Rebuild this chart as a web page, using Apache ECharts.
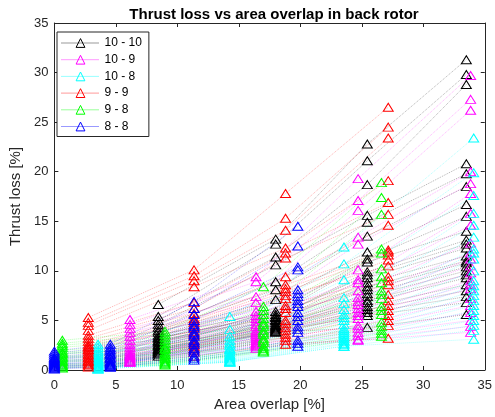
<!DOCTYPE html>
<html>
<head>
<meta charset="utf-8">
<script src="https://cdn.jsdelivr.net/npm/echarts@6/dist/echarts.min.js"></script>
<style>
  html, body { margin: 0; padding: 0; background: #fff; }
  #main { width: 495px; height: 417px; }
</style>
</head>
<body>
<div id="main"></div>
<script>
// area overlap [%] for each rotor pair (4 spacings)
var x_10_10 = [8.45, 18.0, 25.45, 33.5];
var x_10_9 = [6.15, 16.4, 24.7, 33.85];
var x_10_8 = [3.55, 14.27, 23.55, 34.1];
var x_9_9 = [2.76, 11.36, 18.8, 27.15];
var x_9_8 = [0.65, 9.0, 17.0, 26.6];
var x_8_8 = [0.0, 4.55, 11.36, 19.8];

// thrust loss [%], one row per test case
var y_10_10 = [
  [6.6, 13.2, 22.8, 31.3], [5.4, 12.7, 21.1, 29.8], [5.0, 11.4, 18.7, 28.8],
  [4.6, 10.6, 15.6, 20.8], [4.3, 8.9, 14.9, 19.8], [4.0, 8.1, 13.5, 18.5],
  [3.8, 7.1, 11.9, 16.7], [3.5, 5.9, 11.2, 15.5], [3.2, 5.6, 10.9, 14.0],
  [3.0, 5.3, 9.9, 13.1], [2.8, 5.0, 9.3, 12.3], [2.6, 4.8, 8.8, 11.5],
  [2.4, 4.6, 8.1, 10.8], [2.2, 4.4, 7.4, 10.0], [2.0, 4.2, 6.8, 9.3],
  [1.8, 4.0, 6.1, 8.0], [1.6, 3.9, 5.5, 6.8], [1.4, 3.8, 4.3, 5.6],
  [3.3, 5.4, 9.6, 12.7], [2.9, 5.1, 8.4, 11.0], [2.5, 4.5, 7.7, 10.4],
  [2.1, 4.3, 7.0, 9.6], [1.9, 4.1, 6.4, 8.6], [1.7, 3.9, 5.8, 7.4]
];
var y_10_9 = [
  [5.1, 9.4, 19.3, 29.7], [4.6, 8.9, 17.1, 27.3], [4.2, 7.4, 16.1, 26.2],
  [3.8, 6.8, 13.4, 20.0], [3.4, 5.9, 12.7, 18.8], [3.0, 5.5, 10.1, 17.8],
  [2.6, 5.2, 9.1, 15.8], [2.3, 4.9, 8.8, 14.6], [2.0, 4.6, 8.0, 12.8],
  [1.8, 4.4, 7.3, 11.8], [1.6, 4.0, 6.6, 10.5], [1.4, 3.4, 5.8, 9.0],
  [1.2, 3.0, 5.2, 8.2], [1.0, 2.8, 4.5, 7.2], [0.9, 2.6, 3.8, 5.8],
  [0.8, 2.4, 3.1, 4.4], [0.8, 2.2, 3.0, 3.8], [1.5, 3.8, 6.2, 9.8],
  [1.3, 3.6, 6.9, 11.2], [1.1, 3.2, 5.5, 8.6], [0.9, 2.7, 4.2, 6.5],
  [0.8, 2.5, 3.5, 5.0]
];
var y_10_8 = [
  [2.6, 5.4, 12.4, 23.4], [2.3, 4.1, 10.7, 19.9], [2.0, 3.4, 9.1, 17.6],
  [1.8, 3.0, 7.3, 15.8], [1.6, 2.7, 6.7, 14.6], [1.4, 2.5, 6.1, 13.4],
  [1.2, 2.2, 5.6, 12.2], [1.0, 2.0, 5.0, 11.2], [0.9, 1.8, 4.6, 10.0],
  [0.8, 1.6, 4.2, 9.0], [0.6, 1.4, 3.8, 8.0], [0.5, 1.2, 3.4, 7.0],
  [0.4, 1.0, 3.0, 6.0], [0.3, 0.9, 2.7, 5.0], [0.2, 0.8, 2.4, 4.0],
  [0.1, 0.8, 2.4, 3.1], [1.1, 2.1, 5.3, 11.8], [0.7, 1.5, 4.0, 8.5],
  [0.5, 1.3, 3.6, 7.5], [0.3, 1.1, 3.2, 6.5], [0.2, 0.9, 2.9, 5.5],
  [0.1, 0.8, 2.6, 4.5]
];
var y_9_9 = [
  [5.3, 10.1, 17.8, 26.5], [4.8, 9.5, 15.3, 24.5], [4.5, 9.0, 14.1, 23.4],
  [4.0, 8.4, 12.3, 19.1], [3.5, 6.8, 11.8, 16.9], [3.2, 6.2, 11.3, 15.7],
  [2.9, 5.7, 9.4, 14.6], [2.6, 5.2, 8.6, 12.1], [2.3, 4.8, 7.9, 11.6],
  [2.0, 4.3, 7.2, 11.1], [1.8, 3.9, 6.5, 9.4], [1.5, 3.5, 5.8, 8.6],
  [1.3, 3.0, 5.0, 7.6], [1.0, 2.6, 4.3, 6.5], [0.8, 2.2, 3.6, 5.5],
  [0.5, 1.8, 3.0, 4.5], [0.3, 1.4, 2.6, 3.2], [2.4, 5.0, 8.2, 11.9],
  [2.1, 4.5, 7.5, 10.5], [1.6, 3.7, 6.2, 9.0], [1.2, 2.8, 4.7, 7.0],
  [0.9, 2.4, 4.0, 6.0], [0.6, 2.0, 3.3, 5.0]
];
var y_9_8 = [
  [3.0, 3.9, 8.4, 18.9], [2.7, 3.6, 6.4, 17.4], [2.5, 3.3, 6.0, 15.7],
  [2.3, 3.0, 5.6, 12.2], [2.0, 2.7, 5.2, 11.8], [1.8, 2.4, 4.8, 10.2],
  [1.6, 2.1, 4.4, 8.8], [1.4, 1.8, 4.0, 8.0], [1.2, 1.5, 3.6, 7.2],
  [1.0, 1.3, 3.2, 6.4], [0.8, 1.1, 2.8, 5.6], [0.6, 0.9, 2.4, 4.8],
  [0.4, 0.7, 2.0, 4.0], [0.2, 0.5, 1.8, 3.4], [1.7, 2.2, 4.6, 9.4],
  [1.3, 1.6, 3.8, 7.6], [0.9, 1.2, 3.0, 6.0], [0.5, 0.8, 2.2, 4.4],
  [0.3, 0.6, 1.9, 3.7]
];
var y_8_8 = [
  [1.9, 2.6, 6.9, 14.5], [1.7, 2.3, 6.2, 12.5], [1.5, 2.1, 5.6, 10.4],
  [1.3, 1.9, 5.0, 10.1], [1.2, 1.7, 4.6, 8.1], [1.0, 1.5, 4.2, 7.4],
  [0.9, 1.3, 3.8, 7.0], [0.7, 1.1, 3.4, 6.4], [0.6, 0.9, 3.0, 5.8],
  [0.5, 0.7, 2.6, 5.0], [0.4, 0.6, 2.2, 4.4], [0.3, 0.5, 1.8, 3.8],
  [0.2, 0.4, 1.4, 3.0], [0.1, 0.3, 1.0, 2.4], [1.1, 1.6, 4.4, 7.7],
  [0.8, 1.2, 3.6, 6.7], [0.6, 0.8, 2.8, 5.4], [0.4, 0.5, 2.0, 4.1],
  [0.2, 0.3, 1.2, 2.7]
];

var names = ['10 - 10', '10 - 9', '10 - 8', '9 - 9', '9 - 8', '8 - 8'];
var colors = ['#000000', '#ff00ff', '#00ffff', '#ff0000', '#00ff00', '#0000ff'];
var xs = [x_10_10, x_10_9, x_10_8, x_9_9, x_9_8, x_8_8];
var ys = [y_10_10, y_10_9, y_10_8, y_9_9, y_9_8, y_8_8];

var font = 'Liberation Sans, Arial, Helvetica, sans-serif';
var axisColor = '#262626';

var series = [];
names.forEach(function (name, k) {
  ys[k].forEach(function (row) {
    series.push({
      name: name,
      type: 'line',
      symbol: 'triangle',
      symbolSize: [10, 8],
      clip: false,
      silent: true,
      data: row.map(function (v, i) { return [xs[k][i], v]; }),
      lineStyle: { color: colors[k], type: 'dotted', width: 1, opacity: 0.3 },
      itemStyle: { color: 'rgba(255,255,255,0)', borderColor: colors[k], borderWidth: 1 },
      emphasis: { disabled: true }
    });
  });
});

function boxAxis(pos, showLabel) {
  return {
    type: 'value', min: 0, max: 35, interval: 5, position: pos,
    axisLine: { show: true, onZero: false, lineStyle: { color: axisColor, width: 1 } },
    axisTick: { show: true, inside: true, length: 4, lineStyle: { color: axisColor } },
    axisLabel: { show: showLabel, fontSize: 13, color: axisColor, fontFamily: font },
    splitLine: { show: false }
  };
}

var myChart = echarts.init(document.getElementById('main'));

var xMain = boxAxis('bottom', true);
xMain.name = 'Area overlap [%]';
xMain.nameLocation = 'middle';
xMain.nameGap = 26;
xMain.nameTextStyle = { fontSize: 15, color: axisColor, fontFamily: font };
xMain.axisLabel.margin = 9;

var yMain = boxAxis('left', true);
yMain.name = 'Thrust loss [%]';
yMain.nameLocation = 'middle';
yMain.nameGap = 25;
yMain.nameTextStyle = { fontSize: 15, color: axisColor, fontFamily: font };
yMain.axisLabel.margin = 6;

var option = {
  animation: false,
  title: {
    text: 'Thrust loss vs area overlap in back rotor',
    left: 269, top: 2, textAlign: 'center',
    textStyle: { fontSize: 15, fontWeight: 'bold', color: '#000', fontFamily: font }
  },
  legend: {
    orient: 'vertical', left: 57, top: 32,
    data: names,
    selectedMode: false,
    backgroundColor: '#fff',
    borderColor: axisColor, borderWidth: 1,
    padding: [5, 7, 4, 4],
    itemWidth: 38, itemHeight: 11, itemGap: 4.7,
    itemStyle: { borderWidth: 1 },
    lineStyle: { width: 1, type: 'dotted', opacity: 0.8 },
    textStyle: { fontSize: 12, color: '#000', fontFamily: font }
  },
  grid: { left: 49, right: 6, top: 23, bottom: 47, containLabel: false },
  xAxis: [xMain, boxAxis('top', false)],
  yAxis: [yMain, boxAxis('right', false)],
  series: series
};

myChart.setOption(option);
</script>
</body>
</html>
